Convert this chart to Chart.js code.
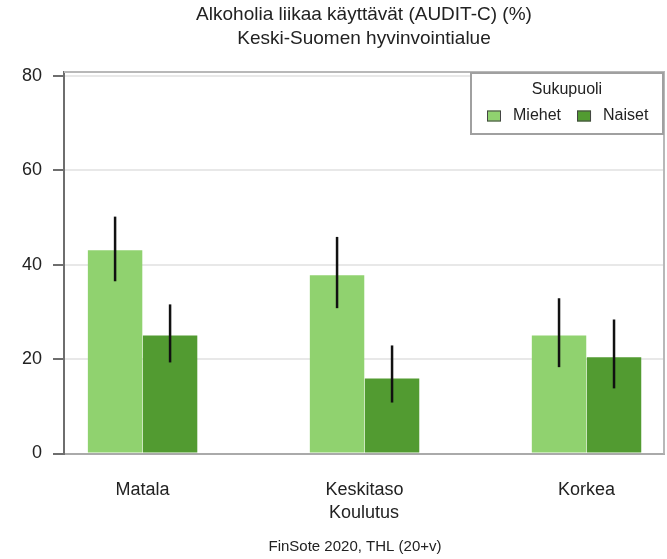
<!DOCTYPE html>
<html>
<head>
<meta charset="utf-8">
<script src="https://cdn.jsdelivr.net/npm/chart.js@4"></script>
<style>
  html, body { margin: 0; padding: 0; background: #fff; }
  canvas { display: block; }
</style>
</head>
<body>
<canvas id="chart" width="667" height="559"></canvas>
<script>
const TITLE = ['Alkoholia liikaa käyttävät (AUDIT-C) (%)', 'Keski-Suomen hyvinvointialue'];
const X_TITLE = 'Koulutus';
const SOURCE = 'FinSote 2020, THL (20+v)';
const LEGEND_TITLE = 'Sukupuoli';

const categories = ['Matala', 'Keskitaso', 'Korkea'];
const seriesNames = ['Miehet', 'Naiset'];
const miehet     = [43.1, 37.8, 25.0];
const miehetLow  = [36.5, 30.8, 18.3];
const miehetHigh = [50.2, 45.9, 32.9];
const naiset     = [25.0, 15.9, 20.4];
const naisetLow  = [19.3, 10.8, 13.8];
const naisetHigh = [31.6, 22.9, 28.4];
const yTicks = [0, 20, 40, 60, 80];

const FONT = '"Liberation Sans", Arial, sans-serif';
const TEXT = '#222';
const COLORS = ['#90d26f', '#529b31'];

Chart.defaults.font.family = FONT;
Chart.defaults.color = TEXT;

function points(values) {
  return values.map((v, i) => ({ x: i + 1, y: v }));
}

// vertical CI lines, no caps
const errorBars = {
  id: 'errorBars',
  afterDatasetsDraw(chart) {
    const { ctx, scales: { y } } = chart;
    ctx.save();
    ctx.strokeStyle = '#111';
    ctx.lineWidth = 2.5;
    chart.data.datasets.forEach((ds, di) => {
      chart.getDatasetMeta(di).data.forEach((bar, i) => {
        ctx.beginPath();
        ctx.moveTo(bar.x, y.getPixelForValue(ds.low[i]));
        ctx.lineTo(bar.x, y.getPixelForValue(ds.high[i]));
        ctx.stroke();
      });
    });
    ctx.restore();
  }
};

// light frame on top and right of the plot
const frame = {
  id: 'frame',
  beforeDatasetsDraw(chart) {
    const { ctx, chartArea: a } = chart;
    ctx.save();
    ctx.strokeStyle = '#b8b8b8';
    ctx.lineWidth = 2;
    ctx.beginPath();
    ctx.moveTo(a.left, a.top);
    ctx.lineTo(a.right, a.top);
    ctx.lineTo(a.right, a.bottom);
    ctx.stroke();
    ctx.restore();
  }
};

const boxLegend = {
  id: 'boxLegend',
  afterDraw(chart) {
    const { ctx, chartArea: a } = chart;
    const w = 192, h = 61;
    const right = a.right - 1, top = a.top + 1;
    const left = right - w;
    ctx.save();
    ctx.fillStyle = '#fff';
    ctx.fillRect(left, top, w, h);
    ctx.strokeStyle = '#a0a0a0';
    ctx.lineWidth = 2;
    ctx.strokeRect(left, top, w, h);

    ctx.font = '16px ' + FONT;
    ctx.fillStyle = TEXT;
    ctx.textAlign = 'center';
    ctx.textBaseline = 'middle';
    ctx.fillText(LEGEND_TITLE, left + w / 2, top + 17);

    ctx.textAlign = 'left';
    let x = left + 16;
    const cy = top + 43;
    chart.data.datasets.forEach(ds => {
      ctx.fillStyle = ds.backgroundColor;
      ctx.fillRect(x, cy - 5.5, 14, 11);
      ctx.strokeStyle = '#444';
      ctx.lineWidth = 1;
      ctx.strokeRect(x + 0.5, cy - 5, 13, 10);
      ctx.fillStyle = TEXT;
      ctx.fillText(ds.label, x + 26, cy);
      x += 26 + ctx.measureText(ds.label).width + 16;
    });
    ctx.restore();
  }
};

const titles = {
  id: 'titles',
  afterDraw(chart) {
    const { ctx, chartArea: a } = chart;
    const cx = (a.left + a.right) / 2;
    ctx.save();
    ctx.fillStyle = TEXT;
    ctx.textAlign = 'center';
    ctx.textBaseline = 'middle';
    ctx.font = '19px ' + FONT;
    TITLE.forEach((t, i) => ctx.fillText(t, cx, 15 + i * 24));
    ctx.font = '15px ' + FONT;
    ctx.fillText(SOURCE, cx - 9, 547);
    ctx.restore();
  }
};

new Chart(document.getElementById('chart'), {
  type: 'bar',
  data: {
    datasets: [
      { label: seriesNames[0], data: points(miehet), low: miehetLow, high: miehetHigh, backgroundColor: COLORS[0] },
      { label: seriesNames[1], data: points(naiset), low: naisetLow, high: naisetHigh, backgroundColor: COLORS[1] },
    ],
  },
  options: {
    responsive: false,
    animation: false,
    devicePixelRatio: 1,
    categoryPercentage: 0.4955,
    barPercentage: 0.99,
    layout: { padding: { top: 72, right: 3, left: 0, bottom: 0 } },
    plugins: {
      legend: { display: false },
      tooltip: { enabled: false },
    },
    scales: {
      x: {
        type: 'linear',
        min: 0.646,
        max: 3.349,
        offset: false,
        afterBuildTicks: s => { s.ticks = categories.map((_, i) => ({ value: i + 1 })); },
        ticks: {
          callback: v => categories[v - 1],
          padding: 26,
          color: TEXT,
          font: { size: 18 },
          maxRotation: 0,
          autoSkip: false,
        },
        grid: { display: false, drawTicks: false, offset: false },
        border: { color: '#aaa', width: 2 },
        title: { display: true, text: X_TITLE, color: TEXT, font: { size: 18 }, padding: { top: 0, bottom: 35 } },
        afterFit: s => { s.height = 105.5; },
      },
      y: {
        min: 0,
        max: 80.85,
        afterBuildTicks: s => { s.ticks = yTicks.map(v => ({ value: v })); },
        ticks: { padding: 11, color: TEXT, font: { size: 18 } },
        grid: { color: '#e8e8e8', lineWidth: 2, tickColor: '#6e6e6e', tickLength: 11, tickWidth: 2 },
        border: { color: '#6e6e6e', width: 2 },
        afterFit: s => { s.width = 64; },
      },
    },
  },
  plugins: [frame, errorBars, boxLegend, titles],
});
</script>
</body>
</html>
